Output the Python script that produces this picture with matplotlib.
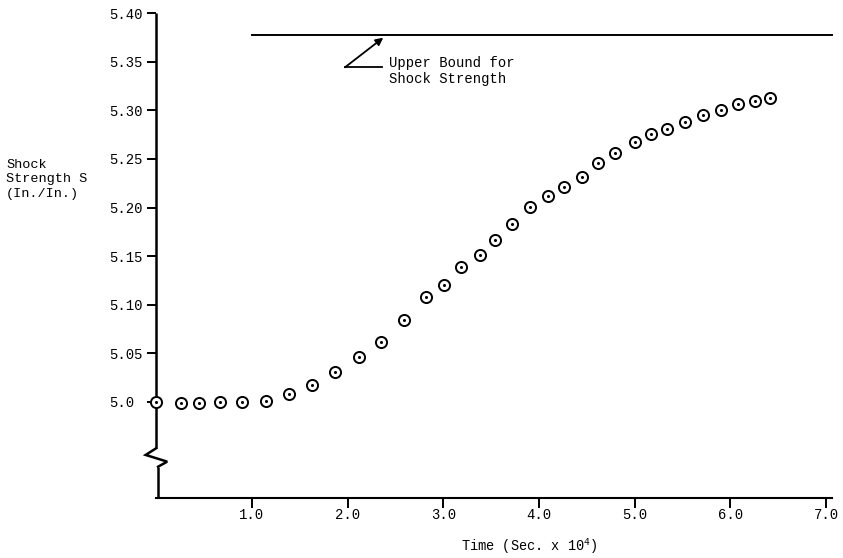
import matplotlib
matplotlib.use("Agg")
import matplotlib.pyplot as plt

plt.rcParams['font.family'] = ['Liberation Mono', 'DejaVu Sans Mono']
plt.rcParams['mathtext.fontset'] = 'custom'
plt.rcParams['mathtext.rm'] = 'Liberation Mono'
plt.rcParams['mathtext.it'] = 'Liberation Mono'

# Shock strength history
time_e4 = [0.00, 0.26, 0.45, 0.67, 0.90, 1.15, 1.39, 1.63, 1.87, 2.12, 2.35,
           2.59, 2.82, 3.01, 3.19, 3.38, 3.54, 3.72, 3.91, 4.09, 4.26, 4.45,
           4.62, 4.80, 5.00, 5.17, 5.34, 5.53, 5.72, 5.90, 6.08, 6.26, 6.42]
strength = [5.000, 4.999, 4.999, 5.000, 5.000, 5.001, 5.008, 5.017, 5.031,
            5.046, 5.062, 5.084, 5.108, 5.120, 5.139, 5.151, 5.167, 5.183,
            5.201, 5.212, 5.221, 5.231, 5.246, 5.256, 5.267, 5.276, 5.281,
            5.288, 5.295, 5.300, 5.307, 5.310, 5.313]

upper_bound = 5.378
bound_start = 1.0

x_ticks = [1.0, 2.0, 3.0, 4.0, 5.0, 6.0, 7.0]
x_tick_labels = ["1.0", "2.0", "3.0", "4.0", "5.0", "6.0", "7.0"]
y_ticks = [5.00, 5.05, 5.10, 5.15, 5.20, 5.25, 5.30, 5.35, 5.40]
y_tick_labels = ["5.0", "5.05", "5.10", "5.15", "5.20", "5.25", "5.30",
                 "5.35", "5.40"]

W, H = 843, 558
fig = plt.figure(figsize=(W / 100, H / 100), dpi=100)
ax = fig.add_axes([156.2 / W, 1 - 497.5 / H, (831.7 - 156.2) / W,
                   (497.5 - 13.2) / H])
ax.set_xlim(0, 7.06)
ax.set_ylim(4.9017, 5.40)

for s in ['top', 'right', 'left']:
    ax.spines[s].set_visible(False)
ax.spines['bottom'].set_linewidth(1.5)

# left axis with a break below 5.0
lw_axis = 1.8
ax.plot([0, 0], [5.40, 4.9524], color='black', lw=lw_axis, clip_on=False,
        solid_capstyle='butt')
ax.plot([0, -0.11, 0.115, 0.02], [4.9524, 4.9455, 4.9386, 4.9334],
        color='black', lw=lw_axis, clip_on=False, solid_joinstyle='miter')
ax.plot([0.02, 0.02], [4.9334, 4.9017], color='black', lw=lw_axis,
        clip_on=False, solid_capstyle='butt')

ax.set_xticks(x_ticks)
ax.set_xticklabels(x_tick_labels)
ax.set_yticks(y_ticks)
ax.set_yticklabels(y_tick_labels)
ax.tick_params(axis='x', direction='out', length=7, width=1.4, pad=0.5,
               labelsize=10)
ax.tick_params(axis='y', direction='out', length=6.5, width=1.4, labelsize=10,
               pad=27)
for lab in ax.get_yticklabels():
    lab.set_horizontalalignment('left')

# upper bound line
ax.plot([bound_start, 7.06], [upper_bound, upper_bound], color='black',
        lw=1.4, clip_on=False)

# data points: open circle with center dot
ax.plot(time_e4, strength, linestyle='none', marker='o', ms=8,
        mfc='white', mec='black', mew=1.4, clip_on=False, zorder=3)
ax.plot(time_e4, strength, linestyle='none', marker='o', ms=2.2,
        mfc='black', mec='black', mew=0, clip_on=False, zorder=4)

# annotation for the bound
tail = (1.973, 5.3443)
head = (2.373, 5.3748)
ax.annotate('', xy=head, xytext=tail,
            arrowprops=dict(arrowstyle='-|>', lw=1.3, color='black',
                            mutation_scale=11, shrinkA=0, shrinkB=0))
ax.plot([tail[0], 2.356], [tail[1], tail[1]], color='black', lw=1.3)
ax.text(2.43, 5.3555, "Upper Bound for\nShock Strength", ha='left', va='top',
        fontsize=10, linespacing=1.1)

fig.text(6 / W, 1 - 159 / H, "Shock\nStrength S\n(In./In.)", ha='left',
         va='top', fontsize=9.7, linespacing=1.25)
fig.text(529 / W, 1 - 546 / H, r"Time (Sec. x 10$^{4}$)", ha='center',
         va='center', fontsize=9.8)

fig.savefig("out.png", dpi=100)
